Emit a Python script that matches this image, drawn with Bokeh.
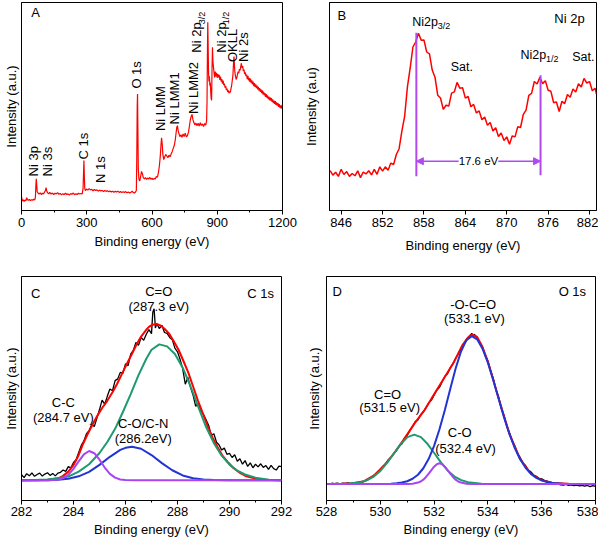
from math import pi
from bokeh.plotting import figure
from bokeh.layouts import column, row
from bokeh.models import Range1d, FixedTicker, Label, Arrow, NormalHead
from bokeh.embed import file_html
from bokeh.resources import INLINE

FONT = "Liberation Sans"

# ---------------- Panel A: survey spectrum ----------------
survey_ev = [0, 4, 8, 12, 16, 20, 24, 27, 31, 36, 41, 46, 51, 56, 61, 64, 66, 68, 70, 72, 76, 81, 86, 91, 96,
             101, 106, 110, 113, 116, 120, 125, 130, 136, 142, 148, 154, 160, 166, 172, 178, 184, 190, 196,
             202, 208, 214, 220, 226, 232, 238, 244, 250, 256, 262, 268, 274, 279, 283, 285, 287, 289, 291,
             294, 299, 305, 311, 317, 323, 329, 335, 341, 347, 353, 359, 365, 371, 377, 383, 389, 395, 401,
             407, 413, 419, 425, 431, 437, 443, 449, 455, 461, 467, 473, 479, 485, 491, 497, 503, 509, 514,
             519, 524, 528, 530, 532, 533.5, 535, 537, 540, 544, 548, 552, 556, 560, 565, 570, 575, 580, 585,
             590, 595, 600, 605, 610, 615, 620, 625, 630, 634, 638, 641, 644, 647, 650, 654, 658, 663, 668,
             673, 678, 683, 688, 693, 698, 703, 707, 711, 714, 717, 720, 724, 728, 733, 738, 743, 748, 753,
             758, 763, 768, 772, 776, 780, 784, 788, 792, 797, 802, 807, 812, 817, 822, 827, 832, 837, 842,
             847, 851, 853, 855, 856.5, 858, 860, 862, 864, 866, 868, 870, 872, 874, 876, 878, 880, 882, 885,
             888, 891, 894, 897, 900, 903, 906, 909, 912, 915, 918, 921, 924, 927, 930, 933, 936, 939, 942,
             945, 948, 951, 954, 957, 960, 963, 966, 969, 972, 975, 977, 979, 981, 984, 987, 990, 993, 996,
             999, 1002, 1005, 1008, 1011, 1014, 1017, 1020, 1023, 1026, 1029, 1032, 1035, 1038, 1041, 1044,
             1047, 1050, 1053, 1056, 1059, 1062, 1065, 1068, 1071, 1074, 1077, 1080, 1083, 1086, 1089, 1092,
             1095, 1098, 1101, 1104, 1107, 1110, 1113, 1116, 1119, 1122, 1125, 1128, 1131, 1134, 1137, 1140,
             1143, 1146, 1149, 1152, 1155, 1158, 1161, 1164, 1167, 1170, 1173, 1176, 1179, 1182, 1185, 1188,
             1191, 1194, 1197, 1200]
survey_int = [6.6, 4.6, 5.1, 4.3, 5.0, 4.7, 6.2, 5.4, 4.9, 5.3, 4.8, 5.2, 4.9, 5.4, 5.1, 6.4, 12.0, 15.2, 12.5,
              9.0, 8.4, 7.9, 8.5, 7.7, 8.3, 8.0, 8.8, 9.6, 11.0, 9.4, 8.6, 8.0, 8.7, 7.9, 8.4, 7.7, 8.3, 8.0,
              8.6, 7.8, 8.2, 7.5, 8.1, 7.6, 8.3, 7.7, 8.0, 7.4, 8.1, 7.8, 8.4, 7.6, 8.0, 7.7, 8.3, 7.9, 8.2,
              8.0, 10.5, 17.0, 24.0, 16.0, 10.5, 9.6, 10.3, 9.8, 10.5, 9.9, 10.2, 9.5, 10.1, 9.6, 9.9, 9.3,
              9.8, 9.4, 9.7, 9.1, 9.6, 9.2, 9.5, 9.0, 9.4, 8.9, 9.3, 8.8, 9.2, 8.9, 9.3, 8.7, 9.1, 8.6, 9.0,
              8.7, 9.1, 8.5, 8.9, 8.4, 8.8, 9.3, 8.6, 8.4, 8.9, 9.6, 25.0, 50.0, 56.0, 40.0, 20.0, 15.0, 14.2,
              16.5, 18.8, 17.6, 15.8, 15.2, 15.8, 14.9, 15.6, 15.1, 15.9, 15.0, 15.6, 14.8, 15.5, 15.2, 16.3,
              16.0, 18.5, 21.5, 26.0, 31.0, 35.0, 32.0, 27.0, 24.5, 25.6, 27.0, 26.2, 25.4, 26.6, 25.8, 27.2,
              28.4, 30.0, 31.5, 34.0, 37.5, 40.0, 40.8, 38.5, 37.0, 35.5, 36.4, 35.2, 36.8, 35.6, 37.2, 35.4,
              36.0, 37.8, 40.5, 43.5, 45.2, 46.2, 43.8, 42.4, 41.2, 42.0, 40.8, 41.9, 40.6, 42.2, 40.9, 41.6,
              40.4, 41.8, 41.0, 43.0, 52.0, 78.0, 90.5, 80.0, 66.0, 62.0, 64.5, 60.0, 61.5, 57.0, 54.0, 53.0,
              68.0, 78.5, 72.0, 69.5, 66.5, 64.0, 66.8, 64.5, 66.2, 63.8, 65.6, 64.0, 65.2, 62.8, 64.4, 62.0,
              63.2, 61.0, 62.4, 60.2, 61.0, 59.0, 59.8, 58.0, 58.6, 57.0, 57.8, 56.4, 57.2, 56.8, 58.5, 60.0,
              62.5, 65.0, 71.0, 74.0, 70.0, 66.5, 64.5, 63.0, 63.8, 65.5, 66.8, 66.0, 68.0, 67.4, 69.2, 70.8,
              68.6, 69.4, 67.0, 67.8, 65.6, 66.4, 64.6, 65.4, 63.2, 64.8, 62.6, 63.8, 61.8, 63.4, 61.2, 62.6,
              60.6, 62.0, 59.8, 61.2, 59.4, 60.6, 58.8, 60.0, 58.2, 59.4, 57.6, 58.8, 57.0, 58.2, 56.4, 57.8,
              55.8, 57.2, 55.4, 56.4, 54.6, 56.0, 54.2, 55.4, 53.6, 54.8, 53.0, 54.4, 52.8, 54.0, 52.2, 53.4,
              51.6, 52.8, 51.2, 52.6, 50.8, 52.0, 50.4, 51.6, 49.8, 51.2, 49.4, 50.6, 49.0, 50.4, 51.0]
survey_ticks = [0, 300, 600, 900, 1200]
survey_minor = [150, 450, 750, 1050]

# ---------------- Panel B: Ni 2p ----------------
ni_ev = [844.4, 844.8, 845.2, 845.6, 846.0, 846.4, 846.8, 847.2, 847.6, 848.0, 848.4, 848.8, 849.2, 849.6,
         850.0, 850.4, 850.8, 851.2, 851.6, 852.0, 852.4, 852.8, 853.2, 853.6, 854.0, 854.4, 854.8, 855.2,
         855.6, 856.0, 856.4, 856.8, 857.2, 857.6, 858.0, 858.4, 858.8, 859.2, 859.6, 860.0, 860.4, 860.8,
         861.2, 861.6, 862.0, 862.4, 862.8, 863.2, 863.6, 864.0, 864.4, 864.8, 865.2, 865.6, 866.0, 866.4,
         866.8, 867.2, 867.6, 868.0, 868.4, 868.8, 869.2, 869.6, 870.0, 870.4, 870.8, 871.2, 871.6, 872.0,
         872.4, 872.8, 873.2, 873.6, 874.0, 874.4, 874.8, 875.2, 875.6, 876.0, 876.4, 876.8, 877.2, 877.6,
         878.0, 878.4, 878.8, 879.2, 879.6, 880.0, 880.4, 880.8, 881.2, 881.6, 882.0, 882.4, 882.8, 883.0]
ni_int = [19.2, 17.0, 18.4, 16.4, 19.8, 17.3, 18.7, 16.4, 17.8, 16.7, 19.1, 15.8, 18.5, 17.6, 19.1, 17.1,
          19.8, 17.4, 21.0, 18.9, 21.0, 19.4, 22.8, 22.1, 26.9, 29.7, 38.2, 45.2, 59.3, 68.4, 78.6, 81.0,
          85.2, 81.9, 82.0, 76.2, 75.3, 67.5, 64.1, 55.4, 54.1, 48.6, 50.6, 50.2, 56.4, 57.0, 61.6, 58.8,
          59.0, 54.0, 54.8, 49.9, 51.0, 46.9, 47.9, 43.6, 44.9, 41.0, 42.3, 38.2, 39.8, 35.6, 37.3, 33.6,
          35.4, 31.8, 35.9, 35.4, 40.3, 39.9, 46.2, 48.3, 55.4, 56.3, 62.0, 60.8, 64.1, 61.0, 62.4, 57.8,
          57.3, 51.8, 52.2, 47.6, 52.5, 51.4, 55.8, 54.4, 58.4, 57.0, 60.9, 59.4, 63.5, 61.3, 62.0, 57.6,
          58.8, 56.0]
ni_ticks = [846, 852, 858, 864, 870, 876, 882]
ni_p32 = 856.9
ni_p12 = 874.9
ni_split = "17.6 eV"

# ---------------- Panel C: C 1s ----------------
c_ev = [282.0, 282.1, 282.2, 282.3, 282.4, 282.5, 282.6, 282.7, 282.8, 282.9, 283.0, 283.1, 283.2, 283.3,
        283.4, 283.5, 283.6, 283.7, 283.8, 283.9, 284.0, 284.1, 284.2, 284.3, 284.4, 284.5, 284.6, 284.7,
        284.8, 284.9, 285.0, 285.1, 285.2, 285.3, 285.4, 285.5, 285.6, 285.7, 285.8, 285.9, 286.0, 286.1,
        286.2, 286.3, 286.4, 286.5, 286.6, 286.7, 286.8, 286.9, 287.0, 287.05, 287.1, 287.15, 287.2, 287.3,
        287.4, 287.5, 287.6, 287.7, 287.8, 287.9, 288.0, 288.1, 288.2, 288.3, 288.4, 288.5, 288.6, 288.7,
        288.8, 288.9, 289.0, 289.1, 289.2, 289.3, 289.4, 289.5, 289.6, 289.7, 289.8, 289.9, 290.0, 290.1,
        290.2, 290.3, 290.4, 290.5, 290.6, 290.7, 290.8, 290.9, 291.0, 291.1, 291.2, 291.3, 291.4, 291.5,
        291.6, 291.7, 291.8, 291.9, 292.0]
c_raw = [11.5, 10.2, 12.0, 11.0, 12.3, 10.8, 11.6, 12.2, 10.9, 11.8, 12.4, 11.2, 12.1, 11.0, 12.2, 12.6,
         13.6, 13.0, 15.1, 14.6, 17.0, 18.2, 21.4, 24.6, 26.6, 29.8, 31.2, 33.9, 33.0, 36.8, 40.6, 44.8,
         43.0, 46.5, 49.8, 49.0, 53.5, 54.3, 57.2, 56.8, 61.0, 60.2, 65.3, 67.0, 70.6, 69.3, 72.8, 71.5,
         74.2, 76.3, 74.5, 84.0, 85.6, 77.0, 79.0, 76.8, 78.2, 75.0, 74.6, 72.8, 71.8, 68.0, 66.4, 63.0,
         58.8, 51.9, 55.0, 50.5, 47.0, 42.0, 43.5, 40.2, 38.4, 36.0, 33.5, 29.1, 29.8, 26.0, 24.8, 22.5,
         23.4, 20.6, 21.0, 19.2, 20.4, 17.5, 18.6, 16.2, 17.8, 15.2, 16.8, 14.6, 16.2, 15.0, 16.4, 14.8,
         15.6, 13.9, 15.7, 14.2, 13.6, 15.3, 15.1]
c_env_ev = [282.0, 282.6, 283.0, 283.42, 283.6, 283.8, 284.0, 284.17, 284.35, 284.55, 284.75, 284.92, 285.1,
            285.3, 285.5, 285.67, 285.85, 286.04, 286.25, 286.42, 286.6, 286.79, 286.9, 287.04, 287.2,
            287.36, 287.5, 287.67, 287.85, 288.04, 288.22, 288.42, 288.6, 288.79, 289.0, 289.17, 289.35,
            289.54, 289.72, 289.92, 290.15, 290.42, 290.65, 290.92, 291.2, 291.54, 292.0]
c_env = [9.0, 9.05, 9.3, 9.9, 11.0, 12.9, 15.8, 19.5, 24.8, 29.8, 34.3, 37.9, 41.3, 44.5, 48.3, 51.9, 56.2,
         60.7, 65.5, 69.5, 73.2, 76.1, 77.5, 78.5, 78.8, 78.0, 76.7, 74.6, 71.2, 67.3, 62.5, 57.0, 50.9, 44.5,
         38.1, 32.7, 28.0, 23.9, 20.2, 17.3, 14.5, 12.2, 10.8, 10.0, 9.4, 9.1, 9.0]
c_co_ev = [282.0, 282.5, 283.0, 283.4, 283.8, 284.2, 284.6, 285.0, 285.3, 285.6, 285.9, 286.2, 286.5, 286.8,
           287.0, 287.3, 287.6, 287.9, 288.2, 288.5, 288.8, 289.1, 289.4, 289.7, 290.0, 290.3, 290.6, 291.0,
           291.5, 292.0]
c_co = [9.0, 9.1, 9.4, 9.9, 10.7, 12.9, 16.2, 21.2, 26.1, 32.0, 39.5, 47.5, 56.0, 63.3, 67.3, 69.7, 68.8,
        65.4, 59.3, 51.0, 41.8, 32.8, 25.6, 20.0, 16.0, 13.3, 11.6, 10.2, 9.3, 9.0]
c_con_ev = [282.0, 283.0, 283.4, 283.8, 284.2, 284.6, 285.0, 285.4, 285.8, 286.0, 286.25, 286.6, 287.0, 287.4,
            287.8, 288.2, 288.6, 289.0, 289.4, 290.0, 292.0]
c_con = [9.0, 9.05, 9.26, 9.75, 10.8, 12.8, 15.9, 19.5, 22.6, 23.5, 24.0, 23.1, 20.3, 16.7, 13.5, 11.2, 9.95,
         9.34, 9.1, 9.0, 9.0]
c_cc_ev = [282.0, 283.0, 283.4, 283.6, 283.8, 284.0, 284.2, 284.4, 284.6, 284.8, 285.0, 285.2, 285.4, 285.6,
           285.8, 286.0, 286.4, 292.0]
c_cc = [9.0, 9.0, 9.3, 10.0, 11.5, 14.1, 17.5, 20.6, 22.1, 21.1, 18.2, 14.7, 11.9, 10.2, 9.4, 9.1, 9.0, 9.0]
c_ticks = [282, 284, 286, 288, 290, 292]
c_minor = [283, 285, 287, 289, 291]

# ---------------- Panel D: O 1s ----------------
o_ev = [528.0, 528.1, 528.2, 528.3, 528.4, 528.5, 528.6, 528.7, 528.8, 528.9, 529.0, 529.1, 529.2, 529.3,
        529.4, 529.5, 529.6, 529.7, 529.8, 529.9, 530.0, 530.1, 530.2, 530.3, 530.4, 530.5, 530.6, 530.7,
        530.8, 530.9, 531.0, 531.1, 531.2, 531.3, 531.4, 531.5, 531.6, 531.7, 531.8, 531.9, 532.0, 532.1,
        532.2, 532.3, 532.4, 532.5, 532.6, 532.7, 532.8, 532.9, 533.0, 533.1, 533.2, 533.3, 533.4, 533.45,
        533.5, 533.6, 533.7, 533.8, 533.9, 534.0, 534.1, 534.2, 534.3, 534.4, 534.5, 534.6, 534.7, 534.8,
        534.9, 535.0, 535.1, 535.2, 535.3, 535.4, 535.5, 535.6, 535.7, 535.8, 535.9, 536.0, 536.1, 536.2,
        536.3, 536.4, 536.5, 536.6, 536.7, 536.8, 536.9, 537.0, 537.1, 537.2, 537.3, 537.4, 537.5, 537.6,
        537.7, 537.8, 537.9, 538.0]
o_raw = [7.6, 7.3, 7.7, 7.5, 7.8, 7.4, 7.7, 7.6, 7.9, 7.5, 7.9, 7.7, 8.1, 8.0, 8.6, 9.0, 9.7, 10.5, 11.6,
         12.7, 13.9, 15.3, 16.4, 18.2, 19.3, 21.0, 22.3, 24.2, 25.2, 27.9, 29.0, 31.2, 33.0, 35.2, 36.0, 38.3,
         39.6, 41.5, 43.6, 44.8, 47.0, 49.2, 50.5, 53.0, 55.5, 56.6, 59.2, 61.0, 63.5, 65.4, 67.8, 69.6,
         71.4, 73.2, 74.6, 73.5, 74.2, 72.6, 70.6, 68.4, 65.0, 62.3, 58.0, 54.5, 49.4, 46.2, 41.0, 38.0,
         33.2, 30.4, 26.5, 24.3, 20.8, 19.2, 16.8, 15.6, 13.6, 12.8, 11.4, 10.8, 9.9, 9.7, 9.0, 8.7, 8.2,
         8.0, 7.5, 7.4, 7.0, 6.9, 7.2, 6.7, 7.0, 6.6, 6.9, 6.5, 6.8, 6.4, 6.7, 6.2, 6.6, 6.3]
o_env_ev = [528.0, 528.6, 529.0, 529.4, 529.77, 530.14, 530.52, 530.89, 531.26, 531.63, 532.0, 532.38,
            532.75, 533.06, 533.25, 533.4, 533.6, 533.8, 534.0, 534.2, 534.4, 534.8, 535.2, 535.6, 536.0,
            536.4, 537.0, 538.0]
o_env = [7.4, 7.45, 7.7, 8.6, 11.2, 15.6, 21.2, 27.5, 34.2, 40.1, 47.4, 54.8, 62.1, 69.5, 72.6, 74.1, 73.0,
         68.5, 62.0, 53.9, 45.5, 29.8, 18.5, 11.95, 9.0, 7.85, 7.45, 7.4]
o_co_ev = [528.0, 528.76, 529.26, 529.51, 529.76, 530.01, 530.26, 530.51, 530.76, 531.01, 531.26, 531.51,
           531.76, 532.01, 532.26, 532.51, 532.76, 533.01, 533.26, 533.76, 534.26, 538.0]
o_co = [7.4, 7.5, 8.15, 9.1, 10.7, 13.3, 16.9, 21.1, 25.2, 28.3, 29.4, 28.3, 25.2, 21.1, 16.9, 13.3, 10.7,
        9.1, 8.15, 7.5, 7.4, 7.4]
o_c_o_ev = [528.0, 531.0, 531.2, 531.4, 531.5, 531.6, 531.7, 531.8, 531.9, 532.0, 532.1, 532.2, 532.3,
            532.4, 532.5, 532.6, 532.7, 532.8, 532.9, 533.0, 533.2, 533.4, 538.0]
o_c_o = [7.4, 7.4, 7.5, 8.0, 8.5, 9.3, 10.5, 12.0, 13.6, 15.1, 16.2, 16.6, 16.2, 15.1, 13.6, 12.0, 10.5,
         9.3, 8.5, 8.0, 7.5, 7.4, 7.4]
o_occ_ev = [528.0, 530.0, 530.4, 530.6, 530.8, 531.0, 531.2, 531.4, 531.6, 531.8, 532.0, 532.2, 532.4,
            532.6, 532.8, 533.0, 533.2, 533.4, 533.6, 533.8, 534.0, 534.2, 534.4, 534.6, 534.8, 535.0,
            535.2, 535.4, 535.6, 535.8, 536.0, 536.2, 536.4, 536.8, 537.2, 538.0]
o_occ = [7.4, 7.42, 7.53, 7.7, 8.0, 8.6, 9.7, 11.5, 14.4, 18.6, 24.4, 31.8, 40.4, 49.8, 58.9, 66.5, 71.6,
         73.4, 71.95, 67.8, 61.5, 53.7, 45.4, 37.1, 29.7, 23.4, 18.4, 14.6, 11.9, 10.1, 9.0, 8.26, 7.85,
         7.5, 7.42, 7.4]
o_ticks = [528, 530, 532, 534, 536, 538]
o_minor = [529, 531, 533, 535, 537]

RED = "#FF0000"
GREEN = "#1E9A70"
BLUE = "#2234D4"
VIOLET = "#A845F2"
MARK = "#B04AF0"


def make_fig(w, h, xr, major, minor, ylabel, mbl, mbr, mbt, mbb, xstand, ystand, lstand=3):
    p = figure(width=w, height=h, x_range=Range1d(*xr), y_range=Range1d(0, 100),
               output_backend="svg", toolbar_location=None,
               min_border_left=mbl, min_border_right=mbr, min_border_top=mbt, min_border_bottom=mbb)
    p.grid.visible = False
    p.outline_line_color = "black"
    p.outline_line_alpha = 1
    p.outline_line_width = 1
    p.background_fill_color = "white"
    p.border_fill_color = "white"
    xa = p.xaxis[0]
    xa.ticker = FixedTicker(ticks=major, minor_ticks=minor)
    xa.major_tick_in = 0
    xa.major_tick_out = 4
    xa.minor_tick_in = 0
    xa.minor_tick_out = 2
    xa.axis_line_color = "black"
    xa.major_tick_line_color = "black"
    xa.minor_tick_line_color = "black"
    xa.major_label_text_font = FONT
    xa.major_label_text_font_size = "13px"
    xa.major_label_text_color = "black"
    xa.major_label_standoff = lstand
    xa.axis_label = "Binding energy (eV)"
    xa.axis_label_text_font = FONT
    xa.axis_label_text_font_size = "13px"
    xa.axis_label_text_font_style = "normal"
    xa.axis_label_text_color = "black"
    xa.axis_label_standoff = xstand
    ya = p.yaxis[0]
    ya.ticker = FixedTicker(ticks=[])
    ya.major_tick_out = 0
    ya.major_tick_in = 0
    ya.minor_tick_out = 0
    ya.minor_tick_in = 0
    ya.major_label_standoff = 0
    ya.major_label_text_font_size = "0px"
    ya.axis_line_color = "black"
    ya.axis_label = ylabel
    ya.axis_label_text_font = FONT
    ya.axis_label_text_font_size = "13px"
    ya.axis_label_text_font_style = "normal"
    ya.axis_label_text_color = "black"
    ya.axis_label_standoff = ystand
    return p


def lab(p, x, y, t, size="13px", align="center", baseline="middle", angle=0.0):
    p.add_layout(Label(x=x, y=y, text=t, text_font=FONT, text_font_size=size, text_color="black",
                       text_align=align, text_baseline=baseline, angle=angle))


# ---- A ----
pA = make_fig(300, 270, (0, 1200), survey_ticks, survey_minor, "Intensity (a.u.)", 18, 18, 2, 54, 4, 3)
pA.line(survey_ev, survey_int, line_color=RED, line_width=1.2)
lab(pA, 45, 95, "A", align="left")
rot = pi / 2
for txt, x, y in [("Ni 3p", 53, 16.4), ("Ni 3s", 121, 16.4), ("C 1s", 287, 24.5), ("N 1s", 362, 13.2),
                  ("O 1s", 528, 58.6), ("Ni LMM", 641, 38.2), ("Ni LMM1", 702, 41.4),
                  ("Ni LMM2", 792, 46.4), ("Ni 2p", 806, 75.9), ("Ni 2p", 919, 75.9),
                  ("OKLL", 969, 71.4), ("Ni 2s", 1022, 71.4)]:
    lab(pA, x, y, txt, align="left", angle=rot)
lab(pA, 829, 89.5, "3/2", size="9px", align="left", angle=rot)
lab(pA, 942, 89.5, "1/2", size="9px", align="left", angle=rot)

# ---- B ----
pB = make_fig(298, 270, (844.31, 883.01), ni_ticks, [], "Intensity (a.u)", 29, 2, 2, 60, 8, 11)
pB.line(ni_ev, ni_int, line_color=RED, line_width=1.5)
pB.segment(x0=[ni_p32, ni_p12], y0=[16.5, 17.0], x1=[ni_p32, ni_p12], y1=[85.5, 65.0],
           line_color=MARK, line_width=2)
pB.add_layout(Arrow(start=NormalHead(size=7, fill_color=MARK, line_color=MARK),
                    end=NormalHead(size=7, fill_color=MARK, line_color=MARK),
                    x_start=ni_p32, y_start=23.7, x_end=ni_p12, y_end=23.7,
                    line_color=MARK, line_width=1.5))
pB.add_layout(Label(x=(ni_p32 + ni_p12) / 2, y=23.7, text=ni_split, text_font=FONT, text_font_size="11.5px",
                    text_color="black", text_align="center", text_baseline="middle",
                    background_fill_color="white"))
lab(pB, 845.47, 93.9, "B", align="left")
lab(pB, 879.1, 92.1, "Ni 2p")
lab(pB, 856.3, 90.7, "Ni2p", size="12.5px", align="left")
lab(pB, 860.0, 88.6, "3/2", size="9px", align="left")
lab(pB, 872.0, 74.8, "Ni2p", size="12.5px", align="left")
lab(pB, 875.7, 72.7, "1/2", size="9px", align="left")
lab(pB, 863.5, 69.2, "Sat.", size="12.5px")
lab(pB, 881.1, 73.8, "Sat.", size="12.5px")

# ---- C ----
pC = make_fig(300, 272, (282, 292), c_ticks, c_minor, "Intensity (a.u.)", 17, 19, 6, 42, 3, 3, 2)
pC.line(c_ev, c_raw, line_color="black", line_width=1.3)
pC.line(c_env_ev, c_env, line_color=RED, line_width=2)
pC.line(c_co_ev, c_co, line_color=GREEN, line_width=2)
pC.line(c_con_ev, c_con, line_color=BLUE, line_width=2)
pC.line(c_cc_ev, c_cc, line_color=VIOLET, line_width=2)
lab(pC, 282.37, 92.5, "C", align="left")
lab(pC, 291.2, 92.5, "C 1s")
lab(pC, 287.28, 93.4, "C=O")
lab(pC, 287.28, 86.8, "(287.3 eV)")
lab(pC, 283.61, 43.6, "C-C")
lab(pC, 283.61, 37.0, "(284.7 eV)")
lab(pC, 286.68, 34.4, "C-O/C-N")
lab(pC, 286.68, 27.8, "(286.2eV)")

# ---- D ----
pD = make_fig(298, 272, (528, 538), o_ticks, o_minor, "Intensity (a.u.)", 26, 3, 6, 42, 3, 5, 2)
pD.line(o_ev, o_raw, line_color="black", line_width=1.3)
pD.line(o_env_ev, o_env, line_color=RED, line_width=2)
pD.line(o_co_ev, o_co, line_color=GREEN, line_width=2)
pD.line(o_occ_ev, o_occ, line_color=BLUE, line_width=2)
pD.line(o_c_o_ev, o_c_o, line_color=VIOLET, line_width=2)
lab(pD, 528.22, 93.4, "D", align="left")
lab(pD, 537.14, 93.4, "O 1s")
lab(pD, 533.45, 87.7, "-O-C=O")
lab(pD, 533.5, 81.1, "(533.1 eV)")
lab(pD, 530.27, 47.1, "C=O")
lab(pD, 530.35, 41.4, "(531.5 eV)")
lab(pD, 532.95, 30.4, "C-O")
lab(pD, 533.17, 23.3, "(532.4 eV)")

layout = column(row(pA, pB), row(pC, pD))
open("out.html", "w").write(file_html(layout, INLINE))
